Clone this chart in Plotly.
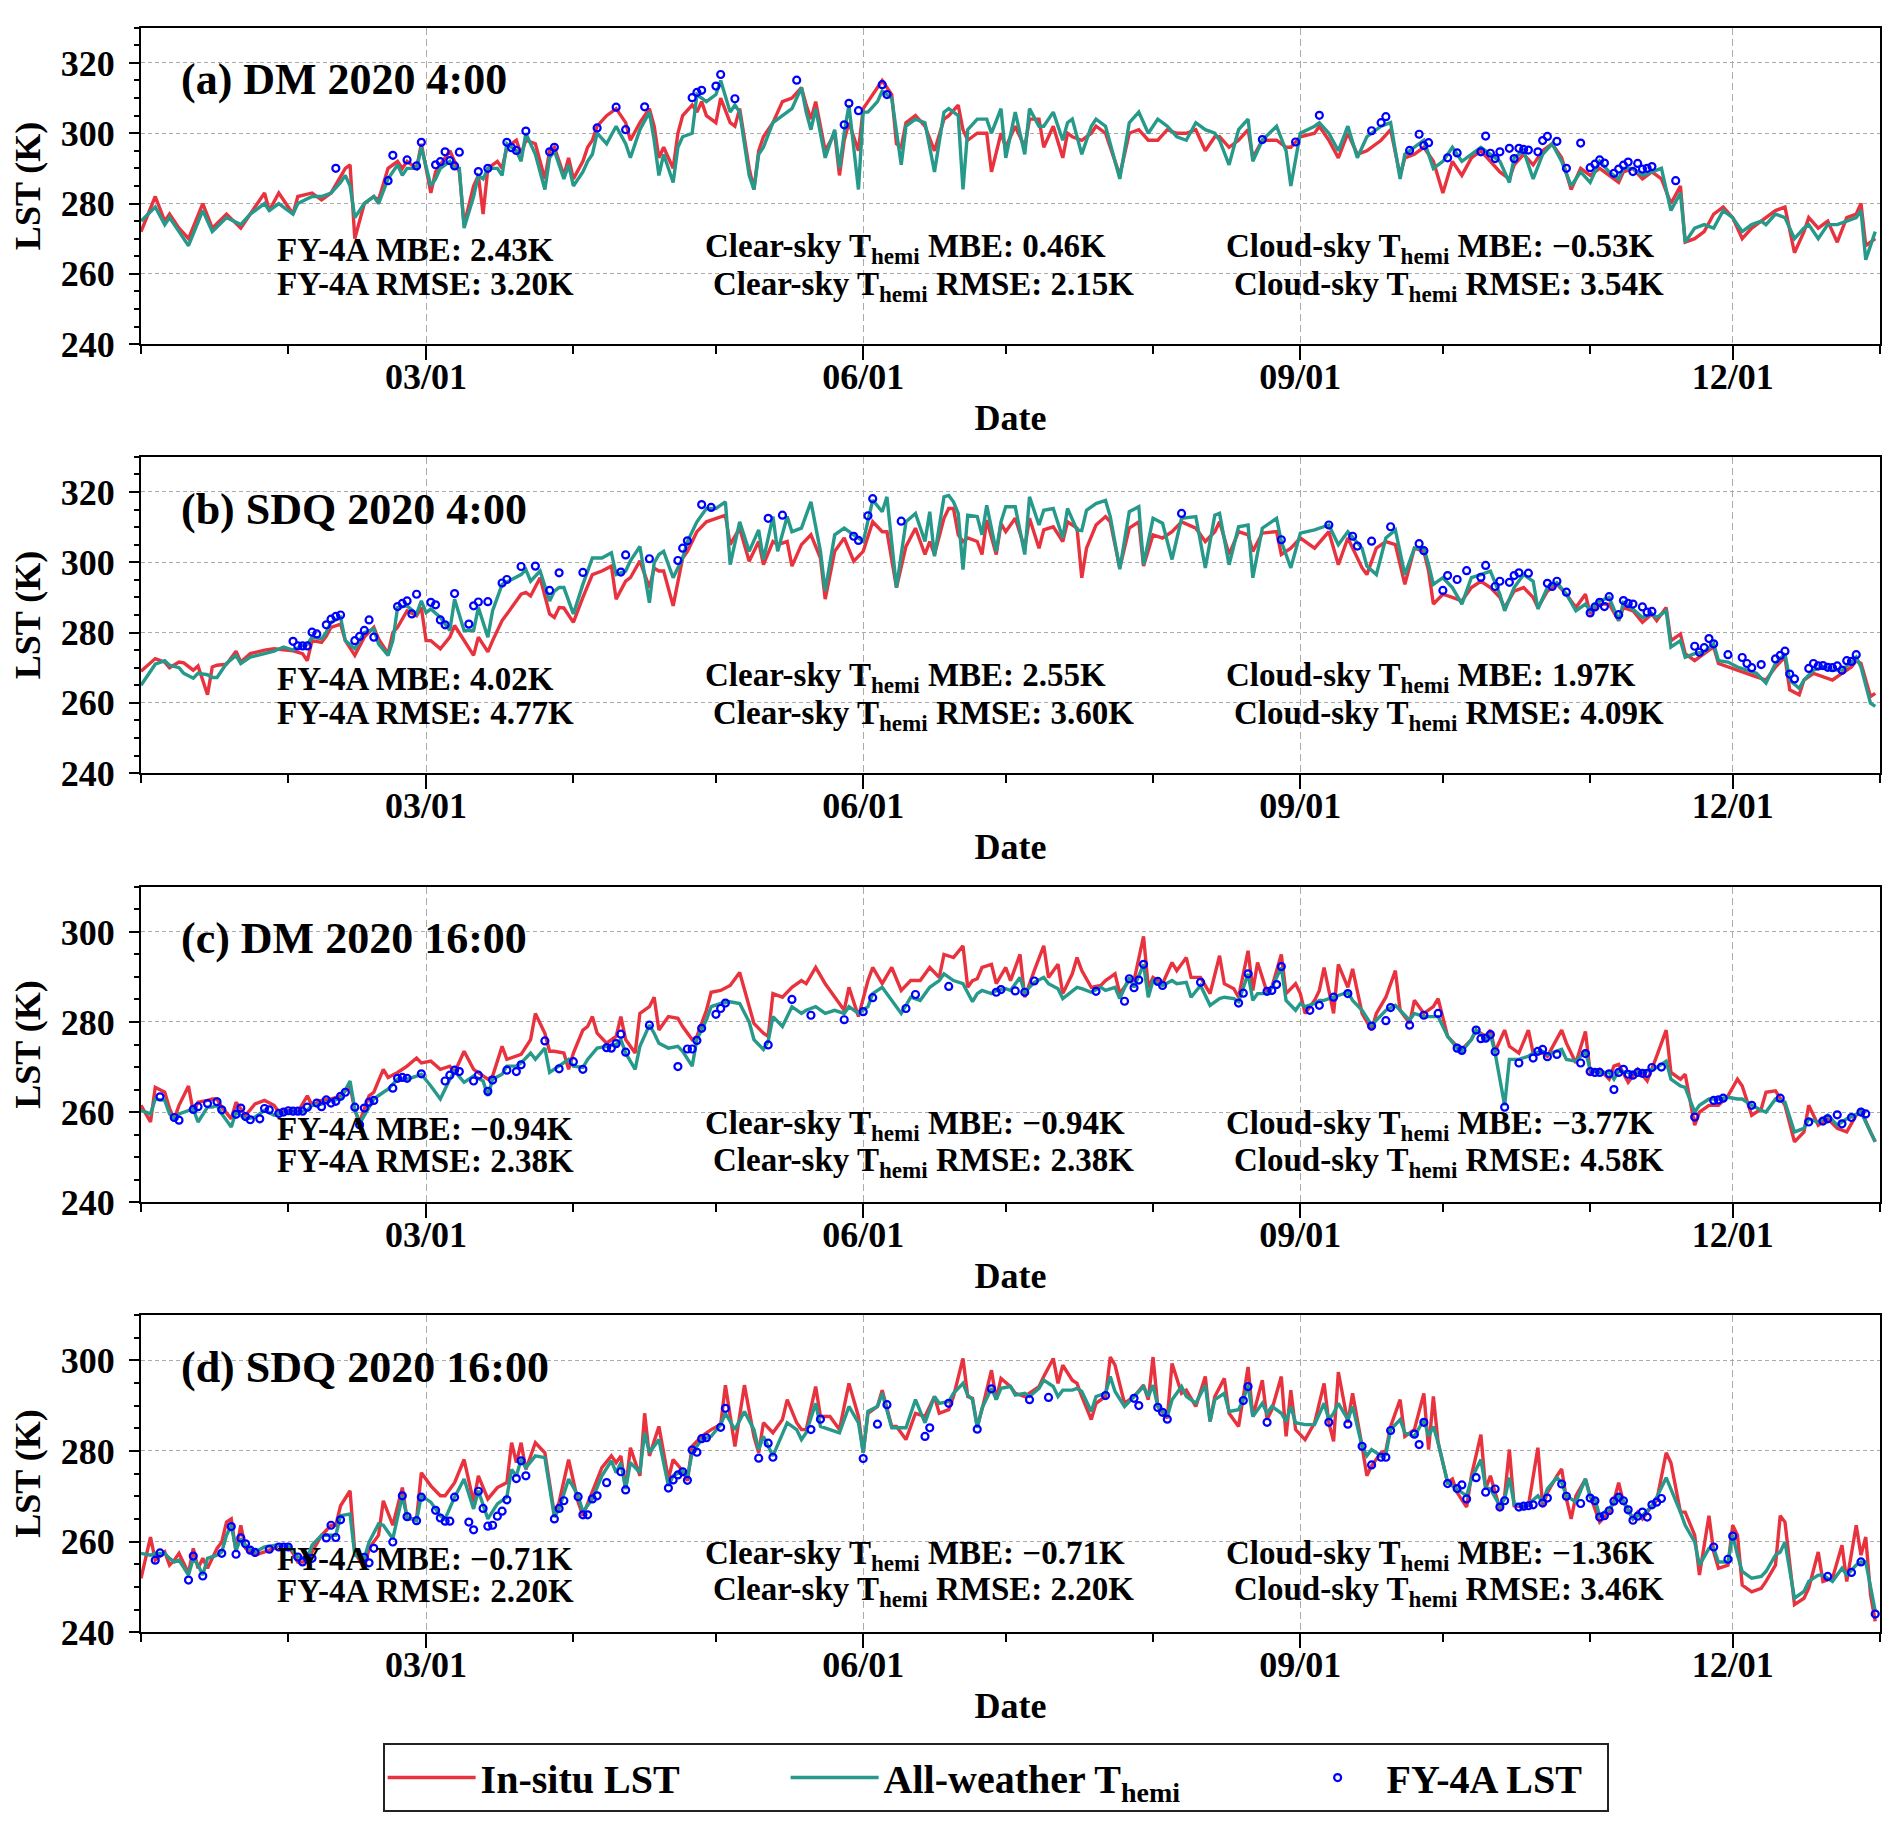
import plotly.graph_objects as go
import pandas as pd

RED = "#e8333f"
TEAL = "#26998a"
BLUE = "#0000ff"
FONT = "Liberation Serif"

# ---------------- (a) DM 4:00 ----------------
A_DAY = [0,3,5,6,8,10,13,15,18,21,23,26,27,29,32,33,36,38,40,42,43,44,45,47,49,50,52,54,55,56,
         58,59,61,62,63,65,66,67,68,70,71,72,73,75,76,77,79,80,81,83,85,86,87,89,90,91,93,94,95,96,
         98,100,102,103,105,107,108,109,110,112,113,114,116,117,118,119,121,122,124,125,126,128,129,130,131,133,134,135,137,139,
         140,141,142,144,146,147,148,149,151,152,153,155,156,158,159,160,161,163,165,167,169,
         170,172,173,174,176,178,179,181,182,184,186,187,189,190,192,194,195,196,198,200,
         201,203,206,208,210,212,214,216,218,220,222,224,226,227,229,231,233,234,236,239,
         241,242,244,247,248,250,252,254,256,258,261,263,265,266,268,270,272,274,276,278,
         280,282,284,286,288,289,291,293,295,297,299,301,303,305,307,309,311,312,314,316,
         318,320,322,324,325,327,329,331,333,335,337,339,341,342,344,346,348,350,351,353,
         355,357,359,361,362,363,365]
A_INSITU = [272,282,275,277,273,270,280,273,277,273,277,283,278,283,277,282,283,281,283,288,
            290,291,270,280,282,281,290,292,290,292,290,297,283,289,291,295,292,289,274,285,
            288,277,290,292,290,296,298,294,298,297,287,295,296,288,293,287,292,296,298,302,
            305,307,303,298,303,307,302,293,296,290,300,305,308,306,309,305,303,310,303,302,
            307,290,284,295,299,303,306,309,310,313,308,304,309,295,300,288,298,303,295,307,
            309,313,315,311,297,296,303,305,302,295,304,
            305,308,301,298,300,300,289,300,296,302,296,304,304,296,302,293,300,299,298,300,
            302,300,288,300,301,298,298,301,300,300,301,295,299,299,296,298,301,293,298,298,
            296,296,299,300,302,298,293,300,294,295,298,301,288,293,294,296,292,283,292,288,
            293,295,292,289,287,291,294,291,295,297,293,284,290,288,290,288,286,289,290,287,
            289,287,280,285,269,270,272,277,279,276,270,273,275,276,278,279,266,272,276,273,
            275,269,276,277,280,268,270]
A_THEMI = [275,279,274,276,272,268,278,272,276,274,277,280,278,280,277,280,282,282,283,286,
           288,285,276,280,282,280,287,291,288,290,290,296,285,287,290,292,290,290,273,282,
           288,287,290,290,288,297,295,292,300,294,284,293,295,287,291,285,289,292,294,300,
           297,302,297,293,301,306,298,288,294,286,296,299,300,311,310,309,311,315,306,308,
           306,288,284,294,296,303,304,305,307,313,306,301,307,293,301,290,300,308,284,306,
           306,309,312,310,300,291,302,304,303,289,306,
           307,305,284,301,304,304,300,307,293,306,294,307,302,302,306,298,303,304,294,302,
           304,302,287,303,306,300,304,302,299,298,303,301,300,298,291,301,304,292,298,302,
           295,285,300,302,303,300,295,302,293,299,302,303,287,294,296,298,290,292,296,292,
           294,296,294,292,286,293,295,287,294,297,292,285,289,286,292,289,287,290,290,288,
           289,290,278,283,269,273,274,273,278,276,272,274,275,274,277,276,270,273,274,270,
           274,274,275,276,278,264,272]
A_FY_DAY = [41,52,53,56,58,59,62,63,64,65,66,67,71,73,77,78,79,81,86,87,
            96,100,102,106,116,117,118,121,122,125,138,148,149,151,156,157,
            236,243,248,259,261,262,267,269,270,271,275,277,282,283,284,285,286,288,289,290,
            291,292,294,295,296,298,300,303,305,306,307,308,310,311,312,313,314,315,316,317,318,323]
A_FY = [290.0,286.5,293.7,292.4,290.7,297.4,291.0,291.9,294.7,292.2,290.7,294.6,289.1,290.0,297.4,295.9,295.1,300.6,294.7,296.0,
        301.5,307.4,301.0,307.5,310.1,311.6,312.2,313.4,316.7,309.8,315.1,302.4,308.5,306.4,313.8,311.0,
        298.2,297.5,305.1,300.7,303.0,304.7,295.1,299.7,296.5,297.3,293.0,294.4,294.7,299.2,294.3,292.8,294.7,295.7,292.8,295.7,
        295.4,295.2,294.7,297.9,299.1,297.7,290.0,297.2,290.2,291.2,292.4,291.5,288.6,289.8,290.9,291.8,289.1,291.4,289.8,290.0,290.5,286.5]

# ---------------- (b) SDQ 4:00 ----------------
B_DAY = [0,3,5,6,8,9,11,12,14,15,16,18,20,21,23,26,28,30,32,34,
         35,36,38,39,40,42,43,45,46,47,49,50,52,53,54,56,58,59,60,61,
         63,65,66,68,70,71,73,74,76,78,80,81,82,84,86,87,88,89,91,93,
         95,97,99,100,102,103,105,107,108,109,110,112,114,115,117,119,121,123,124,126,
         128,130,131,133,134,136,137,139,141,143,144,146,148,150,152,154,156,157,159,161,
         163,165,166,167,169,
         170,171,172,173,174,176,177,178,180,181,182,184,186,187,189,190,192,194,195,197,
         198,199,201,203,204,206,208,210,211,213,215,217,219,222,224,226,227,229,231,233,
         234,236,239,240,242,244,247,250,252,254,257,258,260,262,264,266,268,270,271,272,
         274,276,278,280,282,284,286,287,289,291,293,294,296,298,300,302,304,305,307,309,
         311,312,314,316,318,319,321,322,324,325,327,329,331,332,334,336,338,340,342,344,
         346,347,349,350,352,354,356,358,360,361,362,364,365]
B_INSITU = [269,272.6,271.6,270,271.6,271.4,269.3,270.5,262.3,270.2,270.7,271,274.7,271.6,274,275,275.4,275,274.8,274,
            272,277.7,277.2,279,281.5,282.4,277.7,273.5,275.9,278.7,281.5,278.2,274,280,281.5,286.2,284.8,287.1,277.7,277.7,
            275.4,278.7,282,277.7,273.5,278.7,274.5,277.7,283.4,287.1,290.9,291.4,290.4,295.6,285.3,284.3,287.1,287,282.9,290,
            296.5,297.5,298.9,289.5,294.6,295.6,300.4,292.8,298.3,297.5,297.5,287.6,301.2,303.1,308.7,311.5,312.5,313.4,305,309.7,
            300.3,305.9,299.3,305.9,305,305.9,298.9,305,307.8,301.2,289.5,303.1,306.9,300.3,303.1,311.5,308.7,308.7,292.8,304.5,
            309.7,302.2,305.9,302.2,312.5,
            315.3,315.3,307.8,305.9,306.9,305.9,302.2,312,302.2,311,308.7,312.5,304,312.5,304,309.2,310.1,305.9,311.5,309.7,
            295.6,304,310.6,313,311.5,298.4,309.7,311.5,298.9,307.8,306.9,308.7,311.5,309.7,305.9,308.7,311.5,302.2,308.7,307.8,
            303.1,308.3,308.7,302.2,304,306.9,304,308.7,299.3,306.9,298.4,296.5,304,305.9,305,293.7,304,303.1,297.5,288.1,
            290.9,290,289,292.8,294.6,292.8,290,287.1,291.8,292.8,290,287.1,291.8,293.7,290.9,287.1,290.9,285.3,288.1,288.1,
            283.4,287.1,286.2,282.9,285.3,283.4,287.1,277.7,279.6,274,272,274,275.9,271.2,270.2,269.3,268.4,267.4,266.5,270.2,
            273,263.7,262.3,266.5,268.4,267.4,266.5,268.4,270.2,272,271.2,261.8,262.7]
B_THEMI = [265,271,272,270.7,270,268.4,267,268.4,268,267.2,267.2,271.2,273.5,271.2,273,274,274.7,275.9,275,276.3,
           276.6,278.7,278.2,280.1,282.9,284.3,277.7,275.4,277.7,280,281,276.8,273.5,277.7,287.1,287.6,285.3,289,285.7,286.7,
           284.3,280.6,289.5,280.6,280.6,287.1,278.7,286.2,293.7,295.1,296.5,297.9,294.6,297.5,289,291.8,292.8,292.8,285.3,293.7,
           301.2,301.2,302.7,296.5,297.5,300.4,304.5,288.5,299.8,302.2,303.1,295.6,301.2,305.9,311.5,315.3,315.3,317.2,299.3,311.5,
           303.1,309.2,300.8,313,303.1,313,308.7,309.7,317.2,303.1,291.8,307.8,309.7,307.8,305.9,317.7,314.4,318.6,292.8,311.5,
           313.9,305.9,314.4,301.7,318.6,
           319,317.2,313.9,297.9,313.4,313,307.8,316.2,303.1,311.5,315.8,315.8,302.2,318.6,310.6,314.8,315.3,306.9,315.3,309.2,
           309,314.8,316.7,317.6,313,298,314.4,315.8,299.3,312.5,311.1,300.8,312.5,313,298.4,313.4,313.9,299.3,310.1,310.6,
           295.6,309.7,312.5,305.9,298.4,308.3,309.2,310.6,305,308.7,304,298.9,296.5,306.9,309.2,296.5,304,304,299.3,293.7,
           295.6,292.8,288.1,295.6,296.5,297.5,290.9,286.2,292.8,296.5,294.6,286.7,292.8,294.2,290.9,286.2,288.1,286.2,289,290,
           283.4,288.5,286.7,284.3,285.3,284.3,286.2,275.9,277.7,273,274,274.5,276.8,272,271.6,270.2,269.3,268.4,265.6,271.2,
           274,266.5,264.1,266.5,269.3,270.2,269.3,269.3,271.6,273,270.2,259.9,259]
B_FY_DAY = [32,33,34,35,36,37,39,40,41,42,45,46,47,48,49,54,55,56,57,58,
            61,62,63,64,66,69,70,71,73,76,77,80,83,86,88,93,101,102,107,113,
            114,115,118,120,132,135,150,151,153,154,160,
            219,240,250,255,256,259,263,269,270,274,275,277,279,282,283,285,286,288,289,290,
            292,296,297,298,300,305,306,307,308,309,311,312,313,314,316,317,318,
            327,328,329,330,331,334,337,338,339,341,344,345,346,347,348,351,352,353,354,355,
            356,357,358,359,360,361]
B_FY = [277.5,276.2,276.2,276.2,280.1,279.6,282.2,283.8,284.6,285.0,277.7,278.9,280.6,283.6,278.7,287.4,288.3,289.0,285.3,290.9,
        288.6,287.9,283.6,282.2,291.1,282.4,287.6,288.7,288.8,294.1,295.1,298.8,298.9,292.0,297.0,297.1,297.2,302.1,301.0,300.5,
        304.0,306.1,316.4,315.6,312.5,313.4,307.4,306.2,313.2,318.1,311.7,
        313.9,306.4,310.6,307.4,304.6,306.0,310.1,305.3,303.3,292.0,296.2,295.1,297.6,295.7,299.1,293.1,294.6,294.3,296.2,297.0,
        296.9,294.0,293.1,294.6,291.5,285.6,287.3,288.6,287.4,290.2,285.1,289.1,288.3,288.1,287.3,285.8,286.0,
        276.1,274.4,275.7,278.3,276.8,273.7,272.9,271.2,270.0,270.9,272.5,273.5,274.7,268.2,266.8,269.8,271.2,270.5,270.6,270.1,
        270.0,270.5,269.3,272.0,271.8,273.7]

# ---------------- (c) DM 16:00 ----------------
C_DAY = [0,2,3,5,6,7,8,10,11,12,14,15,16,17,19,20,22,24,26,28,
         29,31,33,35,36,38,40,42,44,45,46,48,49,51,52,54,56,58,59,61,
         63,65,66,68,70,72,73,74,76,77,79,80,82,83,85,86,87,89,90,91,
         93,94,95,96,98,100,101,102,104,105,107,108,109,111,113,114,116,117,119,120,
         122,124,126,128,129,131,132,133,135,137,139,140,142,144,146,148,149,151,153,154,
         156,158,160,162,164,166,168,169,
         171,173,174,175,176,177,179,180,182,183,185,186,188,190,191,193,194,196,197,198,
         200,202,203,205,206,208,209,211,212,213,215,217,218,220,221,223,225,227,228,230,
         231,233,234,235,237,238,240,241,243,244,245,247,248,249,251,252,254,255,257,259,
         260,262,264,265,267,268,270,272,273,275,277,278,280,281,283,284,285,287,288,290,
         292,293,295,296,299,300,302,304,305,307,309,310,311,313,315,317,319,321,322,324,
         325,327,328,330,332,334,336,337,339,341,342,344,346,348,350,351,353,355,357,359,
         361,362,364,365]
C_INSITU = [261.5,257.8,265.5,264.4,260.8,258.5,261.5,265.8,260,262.2,262.6,262.9,262.9,261.1,258.5,262.2,259.3,261.8,262.6,261.5,
            260,260.4,260,263.6,261.5,262.6,262.9,263.6,265.8,260.4,257.8,263.6,264.4,269.5,267.7,268.8,270.2,272,270.9,271.3,
            269.5,270.2,268.8,273.5,269.5,268,267.3,268,274.6,271.7,272.4,272.8,276.1,281.9,277.5,273.5,273.5,273.1,269.5,273.1,
            278.2,279,281.2,277.5,275.3,276.8,281.2,276.1,273.1,281.9,283.4,285.5,278.2,281.2,280.8,279,276.1,276.8,282.6,286.6,
            287,288.1,291,283.4,279.7,277.5,276.8,286.3,285.5,287.7,289.2,288.5,292.1,288.5,285.5,282.6,287.7,281.2,289.2,292.1,
            288.5,292.1,287,289.2,289.2,292.1,289.9,295,
            294.3,296.9,287.7,289.2,289.6,292.1,292.8,288.5,292.1,289.2,295,285.5,291.4,296.9,289.9,292.8,286.3,290.7,294.3,291.4,
            287.7,288.1,289.2,290.7,286.3,289.2,289.2,299,287.7,289.9,288.5,293.2,291.4,294.3,289.9,289.9,286.3,294.7,288.5,287.4,
            285.5,295.8,287,293.2,286.6,287.7,295,286.3,288.5,286.3,281.9,284.8,287,292.1,281.9,292.8,287.7,291.8,281.9,278.2,
            281.9,285.5,291.4,282.6,279.7,284.8,281.9,283.4,285.2,276.8,274.6,273.9,276.1,278.2,276.8,278.2,273.5,278.2,274.6,273.1,
            278.2,273.1,273.1,272.4,278.2,275.3,270.9,277.9,268.8,269.5,267.3,270.2,270.6,266.6,269.5,266.9,272.4,278.2,268.8,267.3,
            268.4,257.1,260,261.5,261.5,263.6,267.3,265.8,259.3,260.7,264.4,264.7,261.5,253.4,255.6,261.5,257.1,258.5,256.4,255.6,
            259.3,260.4,255.6,253.4]
C_THEMI = [260.4,259.6,262.9,262.6,259.6,258.5,259.6,260.4,260.7,257.8,261.1,261.1,261.5,259.6,256.7,260,258.5,258.9,260.4,259.3,
           259.6,260,260,260.4,261.5,261.8,262.6,262.9,266.9,260.7,257.4,261.1,262.9,264.4,265.1,267.3,267.3,268,268.4,265.8,
           262.9,267.3,269.1,266.6,268,266.9,263.6,267.3,268.4,270.2,270.2,270.9,273.1,271.7,274.2,268.8,269.5,270.9,271.7,270.2,
           269.9,271.7,273.1,274.2,274.6,275,276.1,273.1,269.5,274.6,279.3,277.5,275.3,274.2,274.6,273.5,270.2,276.1,280.5,283.4,
           284.1,284.5,284.1,280,276.1,273.9,275.7,281.2,279,283.4,281.9,282.6,283.4,281.9,282.6,281.9,283.4,281.9,283.4,286.3,
           287.7,284.8,281.9,285.5,284.8,287.7,289.2,290.7,
           289.2,288.5,286.3,284.5,286.3,287,286.3,287,287.4,287,289.9,286.6,288.8,289.9,288.5,287.4,285.2,287,287.7,287.4,
           286.6,287.7,287,287.7,285.2,289.9,287.7,292.8,285.5,289.2,288.1,289.2,288.5,288.8,285.5,288.1,283.7,285.2,285.5,285.2,
           284.5,290.7,284.8,286.3,286.3,287.7,292.1,284.8,282.6,284.1,283.4,284.1,284.8,284.8,285.5,285.8,286.6,284.8,282.6,279.3,
           280.4,282.6,283.7,282.6,280.4,281.9,281.2,281.2,281.2,276.8,274.2,273.5,276.1,278.2,276.1,277.2,273.1,261.5,271.7,271.7,
           272.4,273.1,273.5,272.8,273.9,271.7,271.3,273.5,269.5,268.8,268.8,267.3,269.1,268.8,268.8,269.1,269.9,271.3,267.3,265.8,
           265.5,260,261.5,262.9,262.9,263.3,262.9,262.9,261.5,260.4,260,262.9,262.2,255.6,256.4,258.5,257.8,259.3,257.1,258.5,
           259.6,260,255.6,253.4]
C_FY_DAY = [4,7,8,11,12,14,16,17,20,21,22,23,25,26,27,29,30,31,32,33,
            34,35,37,38,39,40,41,42,43,45,46,47,48,49,53,54,55,56,59,64,
            65,66,67,70,71,73,74,77,79,80,85,88,91,93,98,99,100,101,102,107,
            113,115,116,117,118,121,122,123,132,137,141,148,152,154,161,163,170,
            180,181,184,186,188,201,207,208,209,210,211,214,215,223,231,232,233,237,238,239,
            240,246,248,251,254,259,262,263,267,270,273,277,278,281,282,283,284,285,287,290,
            293,294,295,296,298,303,304,305,306,307,309,310,311,312,313,314,315,316,317,318,
            320,327,331,332,333,339,345,351,354,355,357,358,360,362,363]
C_FY = [263.4,258.8,258.2,260.6,261.2,261.9,262.3,260.5,259.5,260.9,259.0,258.3,258.5,260.8,260.5,259.7,260.0,260.3,260.2,260.2,
        260.2,261.1,262.0,261.2,262.7,262.0,262.4,263.5,264.4,261.1,257.2,260.9,262.2,262.6,265.3,267.5,267.7,267.5,268.5,266.9,
        268.2,269.3,269.0,266.9,268.2,264.6,267.1,269.3,269.0,270.5,275.8,269.6,271.2,269.5,274.3,274.2,275.2,277.3,273.3,279.3,
        270.1,274.0,274.0,275.9,278.6,281.7,283.0,284.2,274.9,285.0,281.5,280.5,282.3,285.4,283.0,286.1,287.9,
        286.6,287.2,286.9,286.6,289.1,286.8,284.6,289.6,287.6,289.3,292.8,289.0,288.1,288.8,284.2,286.4,290.7,286.8,287.0,288.3,
        292.3,282.6,283.7,285.5,286.3,279.1,280.3,283.2,279.3,281.5,281.9,274.2,273.7,278.2,276.3,276.4,277.2,273.4,261.1,270.9,
        272.0,273.5,273.9,272.3,272.8,270.9,273.0,269.0,268.8,268.8,268.5,265.0,268.8,269.5,268.4,268.2,268.8,268.6,268.6,269.9,
        270.0,258.9,262.6,262.7,263.1,261.5,263.1,257.8,258.0,258.5,259.4,257.4,258.8,260.0,259.6]

# ---------------- (d) SDQ 16:00 ----------------
D_DAY = [0,2,3,5,6,7,8,10,11,12,13,14,16,17,18,19,20,21,22,24,
         26,28,29,31,33,35,36,38,40,41,42,44,45,47,48,50,51,53,55,56,
         58,59,61,63,64,66,68,70,71,73,75,77,78,79,80,81,83,85,87,88,
         90,92,93,95,97,99,100,101,102,103,105,106,107,109,111,112,114,115,116,118,
         120,122,123,125,127,129,130,131,133,135,136,138,139,140,142,143,145,147,149,151,
         152,153,155,156,158,159,161,163,165,167,168,
         170,171,173,174,175,176,177,179,180,181,183,184,186,187,189,190,192,193,194,196,
         197,198,200,201,203,204,205,207,209,211,212,213,214,216,217,219,220,222,224,225,
         226,228,229,231,232,233,234,236,237,238,240,241,242,243,245,247,249,250,251,252,
         254,255,257,258,259,261,262,263,265,266,268,270,271,272,273,275,276,277,279,280,
         282,283,284,286,287,288,289,291,292,294,295,296,298,299,300,301,302,304,305,306,
         307,309,310,311,312,314,315,316,318,319,321,322,324,325,327,328,330,331,332,334,
         335,336,337,339,341,342,344,345,346,348,350,351,353,354,356,358,359,361,362,363,
         364,365]
D_INSITU = [251.9,261,255.9,257.7,254.8,255.9,257.4,253,258.5,254.1,256.3,254.1,258.5,259.9,264.3,265,257.7,263.6,258.5,257,
            257.7,258.5,259.2,259.2,255.5,255.5,257.7,261.4,263.6,263.6,267.9,271.2,257.7,254.1,258.5,261.4,269,263.6,271.9,265,
            265,275.2,272.3,270.1,270.1,273,278.1,268.7,274.5,269.4,271.9,273,281.8,277.4,281.8,275.9,281.8,279.6,266.1,268.7,
            278.1,268.7,265.7,270.8,276.3,278.9,277.4,278.9,271.6,280.7,274.5,288.3,278.9,285.4,273.8,278.1,275.6,273.4,281,283.2,
            284.7,285.8,294.5,281,294.5,283.2,279.6,286.2,284,286.9,291.3,286.2,284.7,284.7,294.2,287.6,287.6,284.7,294.9,287.6,
            279.6,288.3,289.8,293.4,285.4,285.4,282.5,288.3,287.6,292,288.3,
            289.1,292,300.4,292,291.6,285.4,289.1,297.8,291.3,296,294.2,292.7,292,292.7,294.2,296.4,300.4,294.9,298.9,295.6,
            294.9,292,286.9,290.5,292,300.7,298.9,290.5,292,294.5,291.3,300.7,289.8,287.2,299.3,292.7,293.4,289.8,296.4,286.5,
            292,296,288.3,285.4,292,298.5,287.6,295.6,286.9,289.1,296.4,283.2,293.4,284.7,282.5,286.2,294.9,286.2,282.1,297.4,
            286.2,292.7,281,274.5,276.7,279.6,280,285.4,291.3,283.2,284.7,292.7,280.3,292,281.8,273,273.8,270.8,267.6,274.5,
            283.6,271.6,274.5,267.2,270.1,280.3,267.9,267.6,267.9,280.7,267.9,270.8,274.5,276,269.4,265,270.1,273.8,270.1,267.2,
            264.3,266.5,269,273,268.7,265,266.5,265,267.9,269,279.6,277.4,266.5,266.5,261.4,252.6,265.7,257.7,254.1,254.8,
            263.6,261.4,250.4,248.9,249.7,251.2,254.8,265.7,264.3,246.1,247.5,249.7,257.7,251.2,251.9,259.2,251.2,263.6,257,261,
            248.3,242.4]
D_THEMI = [257.4,257,257.4,257.4,256.3,255.5,255.9,252.6,256.3,254.8,252.6,256.3,257,257.7,261.4,263.6,258.1,260.6,259.2,257.7,
           258.8,259.2,259.3,259.2,256.6,256.3,259.2,261.4,261.4,261.4,265.7,266.1,257,256.3,259.9,263.9,263.6,260.6,270.1,265.4,
           264.6,270.1,268.7,265.7,265,269.8,273.8,267.2,271.2,265,268.3,269.8,275.9,274.5,278.1,276.3,278.9,278.5,265.4,267.2,
           273.8,270.1,266.5,269.4,274.5,277.8,275.2,277.4,271.6,277.4,275.2,284,279.6,282.5,272.3,274.5,275.6,274.1,279.6,282.5,
           283.2,285.8,288.3,284.7,288.7,284.7,280.3,283.2,278.9,284,286.2,284.7,282.5,284,290.5,285.4,284.7,284,289.8,286.2,
           279.6,288.7,289.8,292.7,285.1,285.1,285.1,291.3,286.2,292,290.5,
           290.9,292.7,294.9,292.3,291.3,285.1,289.4,293.8,291.3,293.8,294.2,292.3,292.7,292,293.8,295.6,294.2,292,293.4,293.4,
           293.8,293.1,288.7,292,292.7,296.4,293.1,289.8,292,294.2,292,294.5,289.8,287.6,291.3,294.2,292,290.5,294.5,286.5,
           291.3,292.7,288.7,289.1,291.3,294.5,287.6,290.5,288.3,289.8,288.3,286.5,289.8,286.2,285.8,285.8,290.5,286.9,288.3,290.5,
           286.9,289.8,281,278.9,280.3,278.9,279.2,284.7,286.9,284,283.2,286.9,283.2,285.4,281.8,273,272.3,271.6,270.1,273.8,
           278.1,271.9,271.6,267.9,269.4,274.1,268.3,267.9,268.3,270.1,268.7,271.6,274.1,273,270.1,269.4,268.7,273.8,269.8,269.4,
           265.7,267.2,268.7,270.1,269,265,265.7,265.7,267.9,269.8,274.1,271.6,266.5,263.6,259.9,254.8,258.5,258.5,255.5,255.5,
           261.4,257,253.4,251.9,252.3,253.4,257,257.7,259.9,247.5,249,251.2,252.6,252.6,251.2,254.1,252.6,254.8,255.5,255.5,
           250.4,244.6]
D_FY_DAY = [3,4,10,11,13,17,19,20,21,22,23,24,27,29,30,31,33,34,35,36,
            39,40,41,42,47,48,49,53,55,56,58,59,62,63,64,65,66,69,70,71,
            72,73,74,75,76,77,79,80,81,87,88,89,92,93,94,95,96,98,101,102,
            111,112,113,114,115,116,117,118,119,122,123,130,132,133,141,143,152,155,157,165,166,170,
            176,179,187,191,203,209,210,214,215,216,232,233,237,250,254,257,259,261,262,263,
            268,269,270,275,277,278,279,281,283,285,286,287,290,291,292,293,295,296,299,300,
            303,305,306,307,308,309,310,311,312,313,314,315,316,317,318,319,320,331,334,335,
            355,360,362,365]
D_FY = [255.9,257.5,251.5,256.8,252.4,257.4,263.3,257.2,260.8,259.5,258.1,257.6,258.3,258.8,258.8,258.8,256.6,255.5,256.3,256.3,
        260.8,263.6,260.9,264.8,256.5,255.3,258.5,259.9,270.1,265.5,264.6,269.8,266.9,265.2,264.5,264.5,269.8,264.3,262.6,271.1,
        267.3,263.4,263.6,265.6,266.7,269.2,273.9,277.8,274.5,265.0,267.3,269.0,269.9,265.9,265.9,269.4,270.1,273.0,275.4,271.4,
        271.8,273.6,274.7,275.4,273.5,280.2,279.7,282.7,282.9,285.2,289.4,278.4,281.7,278.6,284.7,287.0,278.3,285.9,290.2,283.2,285.1,290.5,
        284.8,293.7,291.3,291.8,292.2,291.6,290.0,289.6,288.5,287.0,291.1,294.2,286.3,286.3,285.9,281.0,276.9,278.6,278.6,284.5,
        283.7,281.4,286.3,272.8,271.7,272.5,269.4,274.1,270.9,271.6,267.6,269.0,267.6,267.8,267.9,268.1,268.5,269.6,272.7,270.0,
        268.4,269.6,269.0,265.4,265.7,266.8,268.9,269.8,269.0,267.0,264.7,265.6,266.5,265.4,268.1,268.7,269.5,258.8,256.1,261.2,
        252.3,253.2,255.5,244.0]

TITLES = ["(a) DM 2020 4:00", "(b) SDQ 2020 4:00", "(c) DM 2020 16:00", "(d) SDQ 2020 16:00"]
FY_MBE = ["2.43K", "4.02K", "\u22120.94K", "\u22120.71K"]
FY_RMSE = ["3.20K", "4.77K", "2.38K", "2.20K"]
CLEAR_MBE = ["0.46K", "2.55K", "\u22120.94K", "\u22120.71K"]
CLEAR_RMSE = ["2.15K", "3.60K", "2.38K", "2.20K"]
CLOUD_MBE = ["\u22120.53K", "1.97K", "\u22123.77K", "\u22121.36K"]
CLOUD_RMSE = ["3.54K", "4.09K", "4.58K", "3.46K"]
Y_RANGES = [[240, 330], [240, 330], [240, 310], [240, 310]]

panels = [
    (A_DAY, A_INSITU, A_THEMI, A_FY_DAY, A_FY),
    (B_DAY, B_INSITU, B_THEMI, B_FY_DAY, B_FY),
    (C_DAY, C_INSITU, C_THEMI, C_FY_DAY, C_FY),
    (D_DAY, D_INSITU, D_THEMI, D_FY_DAY, D_FY),
]

W, H = 1892, 1838
X_DOM = [133 / W, 1872 / W]
Y_DOMS = [[1 - 340 / H, 1 - 20 / H], [1 - 774 / H, 1 - 454 / H],
          [1 - 1208 / H, 1 - 889 / H], [1 - 1643 / H, 1 - 1322 / H]]


def to_dates(days):
    return pd.Timestamp("2020-01-01") + pd.to_timedelta(days, unit="D")


fig = go.Figure()
bold = dict(family=FONT, color="black", weight="bold")

for i, (day, insitu, themi, fy_day, fy) in enumerate(panels):
    n = "" if i == 0 else str(i + 1)
    fig.add_trace(go.Scatter(
        x=to_dates(day), y=insitu, mode="lines", name="In-situ LST",
        line=dict(color=RED, width=3.4), legendgroup="insitu", showlegend=(i == 0),
        legendwidth=300, xaxis="x" + n, yaxis="y" + n))
    fig.add_trace(go.Scatter(
        x=to_dates(day), y=themi, mode="lines", name="All-weather T<sub>hemi</sub>",
        line=dict(color=TEAL, width=3.4), legendgroup="themi", showlegend=(i == 0),
        legendwidth=400, xaxis="x" + n, yaxis="y" + n))
    fig.add_trace(go.Scatter(
        x=to_dates(fy_day), y=fy, mode="markers", name="FY-4A LST",
        marker=dict(symbol="circle-open", color=BLUE, size=7, line=dict(width=2.2, color=BLUE)),
        legendgroup="fy", showlegend=(i == 0),
        legendwidth=215, xaxis="x" + n, yaxis="y" + n))

    fig.layout["xaxis" + n] = dict(
        domain=X_DOM, anchor="y" + n, type="date",
        range=["2020-01-01", "2021-01-01"],
        tickvals=["2020-03-01", "2020-06-01", "2020-09-01", "2020-12-01"],
        tickformat="%m/%d", ticks="outside", ticklen=14, tickwidth=2, tickcolor="black",
        ticklabelstandoff=-14,
        tickfont=dict(size=36, **bold),
        minor=dict(dtick="M1", tick0="2020-01-01", ticks="outside", ticklen=8,
                   tickwidth=1.8, tickcolor="black", showgrid=False),
        showgrid=True, gridcolor="#ababab", gridwidth=1.3, griddash="7px,4px",
        showline=True, linecolor="black", linewidth=2, mirror=True, zeroline=False,
        title=dict(text="Date", font=dict(size=36, **bold), standoff=8),
    )
    fig.layout["yaxis" + n] = dict(
        domain=Y_DOMS[i], anchor="x" + n, range=Y_RANGES[i],
        tick0=240, dtick=20, ticks="outside", ticklen=10, tickwidth=2, tickcolor="black",
        ticklabelstandoff=7,
        tickfont=dict(size=36, **bold),
        minor=dict(dtick=5, ticks="outside", ticklen=5, tickwidth=1.5, tickcolor="black", showgrid=False),
        showgrid=True, gridcolor="#ababab", gridwidth=1.3, griddash="4px,3px",
        showline=True, linecolor="black", linewidth=2, mirror=True, zeroline=False,
        title=dict(text="LST (K)", font=dict(size=36, **bold), standoff=10),
    )

    xr, yr = "x" + n + " domain", "y" + n + " domain"
    if i < 2:
        fy1, fy2, cs1, cs2 = 0.298, 0.189, 0.303, 0.183
    else:
        fy1, fy2, cs1, cs2 = 0.232, 0.131, 0.243, 0.127
    fig.add_annotation(x=0.022, y=0.835, xref=xr, yref=yr, text=TITLES[i], showarrow=False,
                       xanchor="left", yanchor="middle", font=dict(size=44, **bold))
    notes = [
        (0.077, fy1, "FY-4A MBE: " + FY_MBE[i]),
        (0.077, fy2, "FY-4A RMSE: " + FY_RMSE[i]),
        (0.323, cs1, "Clear-sky T<sub>hemi</sub> MBE: " + CLEAR_MBE[i]),
        (0.3276, cs2, "Clear-sky T<sub>hemi</sub> RMSE: " + CLEAR_RMSE[i]),
        (0.6225, cs1, "Cloud-sky T<sub>hemi</sub> MBE: " + CLOUD_MBE[i]),
        (0.6275, cs2, "Cloud-sky T<sub>hemi</sub> RMSE: " + CLOUD_RMSE[i]),
    ]
    for nx, ny, txt in notes:
        fig.add_annotation(x=nx, y=ny, xref=xr, yref=yr, text=txt, showarrow=False,
                           xanchor="left", yanchor="middle", font=dict(size=33, **bold))

fig.update_layout(
    width=W, height=H,
    margin=dict(l=0, r=0, t=0, b=0),
    paper_bgcolor="white", plot_bgcolor="white",
    font=dict(family=FONT, color="black"),
    showlegend=True,
    legend=dict(
        orientation="h", x=0.522, y=1 - 1790 / H, xanchor="center", yanchor="middle",
        font=dict(size=40, **bold), bordercolor="#222", borderwidth=2, bgcolor="white",
        itemwidth=88, valign="middle",
    ),
)

fig.write_html("out.html")
